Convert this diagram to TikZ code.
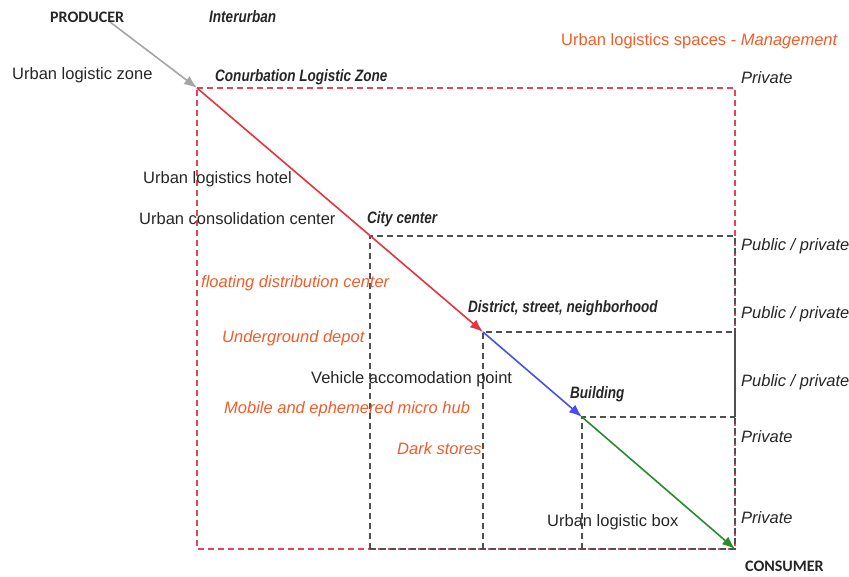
\documentclass[tikz,border=0pt]{standalone}
\usepackage{fontspec}
\setmainfont{Liberation Sans}
\newfontfamily\narrowfont[FakeStretch=0.82]{Liberation Sans}
\newfontfamily\calfont{Carlito}
\usetikzlibrary{arrows.meta}
\definecolor{orng}{RGB}{240,92,42}
\definecolor{redl}{RGB}{228,52,62}
\definecolor{redd}{RGB}{226,70,90}
\definecolor{bluel}{RGB}{70,80,240}
\definecolor{greenl}{RGB}{40,140,45}
\definecolor{grayl}{RGB}{165,165,165}
\definecolor{darkd}{RGB}{80,80,80}
\begin{document}
\begin{tikzpicture}[x=1pt,y=-1pt,
  lbl/.style={inner sep=0pt,anchor=west,font=\fontsize{16.5}{19}\selectfont,text=black!85},
  ilbl/.style={lbl,font=\fontsize{16.5}{19}\selectfont\itshape},
  olbl/.style={ilbl,text=orng},
  blbl/.style={lbl,font=\fontsize{16.5}{19}\selectfont\narrowfont\bfseries\itshape},
  caplbl/.style={lbl,font=\fontsize{16}{19}\selectfont\calfont\bfseries},
  reddash/.style={draw=redd,line width=1.4pt,dash pattern=on 6pt off 4pt},
  blkdash/.style={draw=darkd,line width=1.4pt,dash pattern=on 6pt off 4pt},
  flow/.style={line width=1.6pt,-{Latex[length=13pt,width=10pt]}}]
\useasboundingbox (0,0) rectangle (849,576);
% key points
\coordinate (p0) at (110,22);
\coordinate (cz) at (197,88);
\coordinate (cc) at (370,236);
\coordinate (ds) at (483,332);
\coordinate (bd) at (582,417);
\coordinate (cs) at (735,549);
\coordinate (rt) at (735,88);
\coordinate (bl) at (197,549);
% red dashed outer frame
\draw[reddash] (cz) -- (rt) -- (cs) -- (bl) -- cycle;
% nested black dashed frames
\draw[blkdash] (cc |- cs) -- (cc) -- (rt |- cc) -- (cs) -- cycle;
\draw[blkdash] (ds |- cs) -- (ds) -- (rt |- ds);
\draw[blkdash] (bd |- cs) -- (bd) -- (rt |- bd);
\draw[draw=darkd,line width=1.4pt] (rt |- ds) -- (rt |- bd);
% flow arrows
\draw[flow,draw=grayl,fill=grayl] (p0) -- (cz);
\draw[flow,draw=redl,fill=redl] (cz) -- (ds);
\draw[flow,draw=bluel,fill=bluel] (ds) -- (bd);
\draw[flow,draw=greenl,fill=greenl] (bd) -- (cs);
% labels
\node[caplbl] (producer) at (50,17) {PRODUCER};
\node[blbl] (inter) at (209,17) {Interurban};
\node[lbl] (ulz) at (12,75) {Urban logistic zone};
\node[blbl] (clz) at (215,77) {Conurbation Logistic Zone};
\node[lbl,anchor=east,text=orng] (title) at (838,41) {Urban logistics spaces - \textit{Management}};
\node[ilbl] (m1) at (741,78) {Private};
\node[lbl] (ulh) at (143,179) {Urban logistics hotel};
\node[lbl] (ucc) at (139,219) {Urban consolidation center};
\node[blbl] (city) at (367,219) {City center};
\node[ilbl] (m2) at (741,246) {Public / private};
\node[olbl] (fdc) at (201,283) {floating distribution center};
\node[blbl] (dist) at (468,308) {District, street, neighborhood};
\node[ilbl] (m3) at (741,314) {Public / private};
\node[olbl] (ud) at (222,338) {Underground depot};
\node[lbl] (vap) at (311,379) {Vehicle accomodation point};
\node[ilbl] (m4) at (741,382) {Public / private};
\node[blbl] (bldg) at (570,394) {Building};
\node[olbl] (mob) at (224,409) {Mobile and ephemered micro hub};
\node[ilbl] (m5) at (741,437) {Private};
\node[olbl] (dark) at (397,449) {Dark stores};
\node[ilbl] (m6) at (741,518) {Private};
\node[lbl] (ulb) at (547,522) {Urban logistic box};
\node[caplbl] (consumer) at (745,566) {CONSUMER};
\end{tikzpicture}
\end{document}
